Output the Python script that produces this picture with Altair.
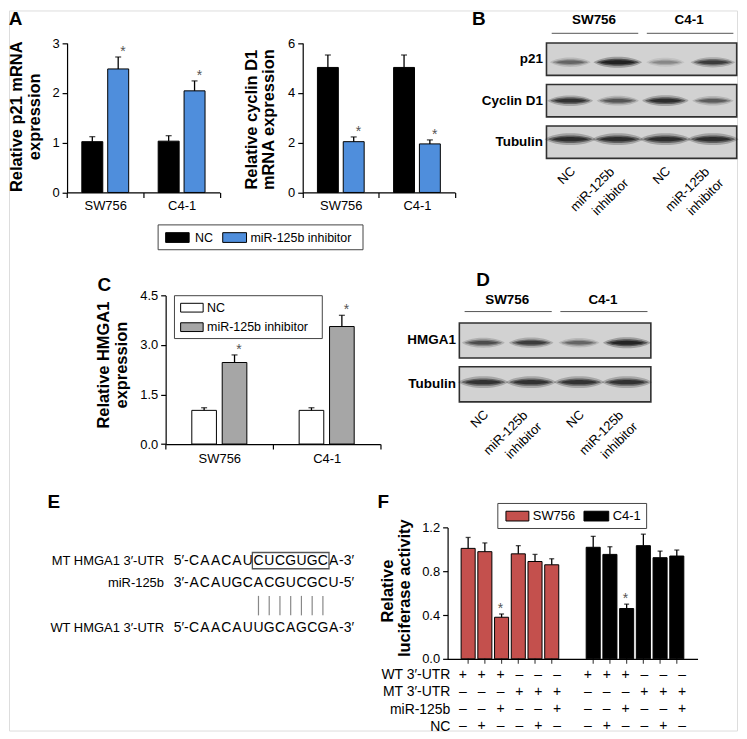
import altair as alt
import pandas as pd

FONT = "Liberation Sans"
W, H = 731, 723
SX, SY = 0.983, 0.978


def PX(x):
    return round(365.5 + (x - 373.5) * SX, 2)


def PY(y):
    return round(361.5 + (y - 369.5) * SY, 2)


# ------------------------------------------------------------------ data
CELLS = ["SW756", "C4-1"]
TREATS = ["NC", "miR-125b inhibitor"]

P21_MEAN = [1.02, 2.48, 1.03, 2.04]
P21_ERR = [0.10, 0.24, 0.11, 0.20]
CCND1_MEAN = [5.02, 2.04, 5.02, 1.95]
CCND1_ERR = [0.50, 0.19, 0.50, 0.16]
HMGA1_MEAN = [1.02, 2.47, 1.02, 3.56]
HMGA1_ERR = [0.08, 0.23, 0.08, 0.34]
SIG_A = [False, True, False, True]

B_PROTEINS = ["p21", "Cyclin D1", "Tubulin"]
B_P21 = [0.45, 1.0, 0.28, 0.72]
B_CCND1 = [0.8, 0.55, 0.85, 0.5]
B_TUB = [0.85, 0.85, 0.85, 0.85]
D_PROTEINS = ["HMGA1", "Tubulin"]
D_HMGA1 = [0.6, 0.72, 0.45, 0.95]
D_TUB = [0.8, 0.8, 0.8, 0.8]
LANES = [1, 2, 3, 4]
LANE_LINE1 = ["NC", "miR-125b", "NC", "miR-125b"]
LANE_LINE2 = ["", "inhibitor", "", "inhibitor"]

SEQ_ROWS = ["MT", "miR", "pair", "WT"]
SEQ_LABELS = ["MT HMGA1 3′-UTR", "miR-125b", "", "WT HMGA1 3′-UTR"]
SEQ_MT = "CAACAUCUCGUGCA"
SEQ_MIR = "ACAUGCACGUCGCU"
SEQ_WT = "CAACAUUGCAGCGA"
SEQ_LEFT = ["5′-", "3′-", "", "5′-"]
SEQ_RIGHT = ["-3′", "-5′", "", "-3′"]
SEED = [7, 8, 9, 10, 11, 12, 13]

F_CONDS = ["c1", "c2", "c3", "c4", "c5", "c6"]
F_SW756_MEAN = [1.01, 0.98, 0.38, 0.96, 0.89, 0.86]
F_SW756_ERR = [0.10, 0.08, 0.03, 0.075, 0.065, 0.055]
F_C41_MEAN = [1.02, 0.955, 0.46, 1.035, 0.925, 0.94]
F_C41_ERR = [0.10, 0.07, 0.04, 0.105, 0.06, 0.055]
F_SIG = [False, False, True, False, False, False]
F_TABLE_ROWS = ["WT 3′-UTR", "MT 3′-UTR", "miR-125b", "NC"]
F_WT = ["+", "+", "+", "–", "–", "–"]
F_MT = ["–", "–", "–", "+", "+", "+"]
F_MIR = ["–", "–", "+", "–", "–", "+"]
F_NC = ["–", "+", "–", "–", "+", "–"]

COLORS_A = ["black", "#4F8EDC"]
COLORS_C = ["white", "#A6A6A6"]
COLORS_F = ["#C4504D", "black"]

DUMMY = pd.DataFrame({"k": [0]})


# ------------------------------------------------------------------ helpers
def axis_common(**kw):
    base = dict(domainColor="black", tickColor="black", labelColor="black",
                domainWidth=1.2, tickWidth=1.2, labelFont=FONT, labelFontSize=13,
                grid=False, title=None, labelOverlap=False)
    base.update(kw)
    return alt.Axis(**base)


def txt(text, x, y, size=13, weight="normal", angle=0, align="center",
        baseline="middle", color="black"):
    return alt.Chart(DUMMY).mark_text(
        text=text, fontSize=size, fontWeight=weight, angle=angle, align=align,
        baseline=baseline, font=FONT, color=color
    ).encode(x=alt.value(PX(x)), y=alt.value(PY(y)))


def box(x0, x1, y0, y1, fill, stroke, sw=1.0):
    return alt.Chart(DUMMY).mark_rect(fill=fill, stroke=stroke, strokeWidth=sw).encode(
        x=alt.value(PX(x0)), x2=alt.value(PX(x1)), y=alt.value(PY(y0)), y2=alt.value(PY(y1)))


def legend_layers(frame, entries, font_size):
    out = [box(*frame, fill="white", stroke="#444444", sw=1.0)]
    for label, color, sx0, sx1, sy0, sy1, lx in entries:
        out.append(box(sx0, sx1, sy0, sy1, fill=color, stroke="black", sw=1.0))
        out.append(txt(label, lx, (sy0 + sy1) / 2, size=font_size, align="left"))
    return out


def grouped_df(means, errs, sig):
    rows = []
    i = 0
    for c in CELLS:
        for t in TREATS:
            rows.append({"cell": c, "treat": t, "v": means[i], "hi": means[i] + errs[i],
                         "star": "*" if sig[i] else ""})
            i += 1
    return pd.DataFrame(rows)


def grouped_bars(df, x_px, y_px, y_dom, y_vals, y_fmt, c_rng, pad_in, pad_out, lab_pad):
    xs = alt.Scale(domain=CELLS, range=[PX(x_px[0]), PX(x_px[1])], paddingInner=0, paddingOuter=0)
    os_ = alt.Scale(domain=TREATS, paddingInner=pad_in, paddingOuter=pad_out)
    ys = alt.Scale(domain=y_dom, range=[PY(y_px[0]), PY(y_px[1])], nice=False, zero=False)
    cs = alt.Scale(domain=TREATS, range=c_rng)
    xa = axis_common(orient="bottom", offset=round(PY(y_px[0]) - H, 2), labelAngle=0,
                     tickSize=5, labelPadding=lab_pad, tickBand="extent")
    ya = axis_common(orient="left", offset=-PX(x_px[0]), values=y_vals, format=y_fmt,
                     tickSize=5, labelPadding=3)
    X = alt.X("cell:N", scale=xs, axis=None)
    XO = alt.XOffset("treat:N", scale=os_)
    base = alt.Chart(df)
    bars = base.mark_bar(stroke="black", strokeWidth=1).encode(
        x=alt.X("cell:N", scale=xs, axis=xa), xOffset=XO,
        y=alt.Y("v:Q", scale=ys, axis=ya),
        color=alt.Color("treat:N", scale=cs, legend=None))
    err = base.mark_rule(color="black", strokeWidth=1.3).encode(
        x=X, xOffset=XO, y=alt.Y("v:Q", scale=ys, axis=None), y2="hi:Q")
    cap = base.mark_tick(color="black", thickness=1.3, size=6, orient="horizontal").encode(
        x=X, xOffset=XO, y=alt.Y("hi:Q", scale=ys, axis=None))
    star = base.mark_text(color="#555555", fontSize=14, font=FONT, baseline="alphabetic", dy=-1).encode(
        x=X, xOffset=XO, y=alt.Y("hi:Q", scale=ys, axis=None), text="star:N")
    return [bars, err, cap, star]


def blot(proteins, ints, frame, pad_in, header_y, line_y):
    left, right, top, bottom = frame
    xs = alt.Scale(domain=[0.5, 4.5], range=[PX(left), PX(right)], nice=False, zero=False)
    ys = alt.Scale(domain=proteins, range=[PY(top), PY(bottom)], paddingInner=pad_in, paddingOuter=0)
    layers = []
    df_box = pd.DataFrame({"protein": proteins})
    row_axis = alt.Axis(orient="left", offset=-PX(left), domain=False, ticks=False,
                        labelFontWeight="bold", labelFontSize=13.5, labelPadding=4,
                        labelFont=FONT, labelColor="black", title=None, grid=False,
                        labelOverlap=False)
    layers.append(alt.Chart(df_box).transform_calculate(lo="0.5", hi="4.5").mark_rect(
        fill="#d2d2d2", stroke="#303030", strokeWidth=1.6).encode(
        x=alt.X("lo:Q", scale=xs, axis=None), x2="hi:Q",
        y=alt.Y("protein:N", scale=ys, axis=row_axis)))
    rows = [{"protein": p, "lane": LANES[i], "I": v}
            for p, vals in zip(proteins, ints) for i, v in enumerate(vals)]
    df = pd.DataFrame(rows)
    for w, t, k in ((48, 11, 0.28), (42, 7, 0.55), (34, 4, 0.75)):
        c = t / (0.75 * w)
        path = f"M-1,0C-0.55,{-c:.3f} 0.55,{-c:.3f} 1,0C0.55,{c:.3f} -0.55,{c:.3f} -1,0Z"
        layers.append(alt.Chart(df).transform_calculate(
            op=f"datum.I*{k}",
            sz=f"pow({w}*(0.72+0.3*datum.I)*(datum.protein=='Tubulin'?1.1:1),2)"
        ).mark_point(shape=path, filled=True, color="#111111", strokeWidth=0).encode(
            x=alt.X("lane:Q", scale=xs, axis=None),
            y=alt.Y("protein:N", scale=ys, axis=None),
            opacity=alt.Opacity("op:Q", scale=None),
            size=alt.Size("sz:Q", scale=None)))
    df_h = pd.DataFrame({"cell": CELLS, "gi": [0, 1]})
    head = alt.Chart(df_h).transform_calculate(
        mid="datum.gi*2+1.5", lo="datum.gi*2+0.61", hi="datum.gi*2+2.43")
    layers.append(head.mark_text(fontWeight="bold", fontSize=13.5, font=FONT, color="black").encode(
        x=alt.X("mid:Q", scale=xs, axis=None), y=alt.value(PY(header_y)), text="cell:N"))
    layers.append(head.mark_rule(color="#555555", strokeWidth=1).encode(
        x=alt.X("lo:Q", scale=xs, axis=None), x2="hi:Q", y=alt.value(PY(line_y))))
    df_l = pd.DataFrame({"lane": LANES, "l1": LANE_LINE1, "l2": LANE_LINE2})
    for field, filt, sx, yoff in (("l1", "datum.l2 == ''", 3, 11.0),
                                  ("l1", "datum.l2 != ''", -5.6, 11.7),
                                  ("l2", "datum.l2 != ''", 8.6, 23.4)):
        d = round(0.7071 * sx, 2)
        layers.append(alt.Chart(df_l).transform_filter(filt).mark_text(
            angle=315, align="right", baseline="middle", fontSize=13, font=FONT,
            color="black", dx=d, dy=d).encode(
            x=alt.X("lane:Q", scale=xs, axis=None),
            y=alt.value(PY(bottom + yoff)), text=f"{field}:N"))
    return layers


layers = []

# ------------------------------------------------------------------ panel A
dfA1 = grouped_df(P21_MEAN, P21_ERR, SIG_A)
dfA2 = grouped_df(CCND1_MEAN, CCND1_ERR, SIG_A)
layers += grouped_bars(dfA1, (61, 217), (186.7, 33.3), [0, 3], [0, 1, 2, 3], "d", COLORS_A, 0.19, 0.57, 2)
layers += grouped_bars(dfA2, (301.7, 457.3), (186.7, 33.3), [0, 6], [0, 2, 4, 6], "d", COLORS_A, 0.19, 0.57, 2)
layers += legend_layers((154, 363.3, 220, 245.5), [
    (TREATS[0], COLORS_A[0], 161.7, 185.7, 228, 238, 191.7),
    (TREATS[1], COLORS_A[1], 220, 244.3, 228, 238, 248.3)], 12.5)

# ------------------------------------------------------------------ panel C
dfC = grouped_df(HMGA1_MEAN, HMGA1_ERR, SIG_A)
layers += grouped_bars(dfC, (161.7, 381), (445, 292.5), [0, 4.5], [0, 1.5, 3, 4.5], ".1f",
                       COLORS_C, 0.19, 0.86, 4)
layers += legend_layers((170.7, 321.7, 292.7, 336.7), [
    (TREATS[0], COLORS_C[0], 177, 200, 300.5, 309.5, 204),
    (TREATS[1], COLORS_C[1], 177, 200, 320.5, 329.5, 204)], 12.5)

# ------------------------------------------------------------------ panel B, D blots
layers += blot(B_PROTEINS, [B_P21, B_CCND1, B_TUB], (550.7, 745, 33.3, 151.7), 0.22, 10, 23.3)
layers += blot(D_PROTEINS, [D_HMGA1, D_TUB], (461.7, 657.3, 320.7, 401.7), 0.2, 296.7, 309)

# ------------------------------------------------------------------ panel E
seq_rows = []
for row, seq in (("MT", SEQ_MT), ("miR", SEQ_MIR), ("WT", SEQ_WT)):
    for i, ch in enumerate(seq, start=1):
        seq_rows.append({"row": row, "idx": i, "ch": ch})
df_seq = pd.DataFrame(seq_rows)
ex = alt.Scale(domain=[1, 14], range=[PX(190.7), PX(333.3)], nice=False, zero=False)
ey = alt.Scale(type="point", domain=SEQ_ROWS, range=[PY(564.7), PY(634)], padding=0)
layers.append(alt.Chart(df_seq).mark_text(fontSize=14, font=FONT, color="black").encode(
    x=alt.X("idx:Q", scale=ex, axis=None), y=alt.Y("row:N", scale=ey, axis=None), text="ch:N"))
df_ends = pd.DataFrame({"row": SEQ_ROWS, "left": SEQ_LEFT, "right": SEQ_RIGHT, "lab": SEQ_LABELS})
layers.append(alt.Chart(df_ends).transform_calculate(p="0.5").mark_text(
    fontSize=14, font=FONT, color="black", align="right").encode(
    x=alt.X("p:Q", scale=ex, axis=None), y=alt.Y("row:N", scale=ey, axis=None), text="left:N"))
layers.append(alt.Chart(df_ends).transform_calculate(p="14.5").mark_text(
    fontSize=14, font=FONT, color="black", align="left").encode(
    x=alt.X("p:Q", scale=ex, axis=None), y=alt.Y("row:N", scale=ey, axis=None), text="right:N"))
layers.append(alt.Chart(df_ends).mark_text(
    fontSize=13, font=FONT, color="black", align="right").encode(
    x=alt.value(PX(160)), y=alt.Y("row:N", scale=ey, axis=None), text="lab:N"))
bw = PX(327.3) - PX(249)
bh = PY(573) - PY(556.3)
hb = bh / bw
box_path = f"M-1,{-hb:.4f}H1V{hb:.4f}H-1Z"
df_seed = pd.DataFrame({"idx": SEED, "row": ["MT"] * len(SEED)})
layers.append(alt.Chart(df_seed).transform_aggregate(
    c="mean(idx)", groupby=["row"]).mark_point(
    shape=box_path, filled=False, color="#555555", strokeWidth=1.3, size=bw * bw, opacity=1).encode(
    x=alt.X("c:Q", scale=ex, axis=None), y=alt.Y("row:N", scale=ey, axis=None)))
df_pair = pd.DataFrame({"idx": SEED, "row": ["pair"] * len(SEED)})
layers.append(alt.Chart(df_pair).mark_tick(
    orient="vertical", size=PY(623) - PY(603), thickness=1.2, color="#555555").encode(
    x=alt.X("idx:Q", scale=ex, axis=None), y=alt.Y("row:N", scale=ey, axis=None)))

# ------------------------------------------------------------------ panel F
f_rows = []
t_rows = []
for cell, means, errs in (("SW756", F_SW756_MEAN, F_SW756_ERR), ("C4-1", F_C41_MEAN, F_C41_ERR)):
    for k, cond in enumerate(F_CONDS):
        f_rows.append({"cell": cell, "cond": cond, "v": means[k], "hi": means[k] + errs[k],
                       "star": "*" if F_SIG[k] else "", "zero": 0})
        for rname, signs in zip(F_TABLE_ROWS, (F_WT, F_MT, F_MIR, F_NC)):
            t_rows.append({"cell": cell, "cond": cond, "row": rname, "s": signs[k]})
df_f = pd.DataFrame(f_rows)
df_t = pd.DataFrame(t_rows)
fxs = alt.Scale(domain=CELLS, range=[PX(449.5), PX(705)], paddingInner=0, paddingOuter=0)
fos = alt.Scale(domain=F_CONDS, paddingInner=0.16, paddingOuter=0.82)
fys = alt.Scale(domain=[0, 1.2], range=[PY(665.5), PY(530.8)], nice=False, zero=False)
fcs = alt.Scale(domain=CELLS, range=COLORS_F)
FX = alt.X("cell:N", scale=fxs, axis=None)
FXO = alt.XOffset("cond:N", scale=fos)
fbase = alt.Chart(df_f)
layers.append(fbase.mark_tick(orient="vertical", size=10, thickness=1.2, color="black").encode(
    x=FX, xOffset=FXO, y=alt.Y("zero:Q", scale=fys, axis=None)))
layers.append(fbase.mark_bar(stroke="black", strokeWidth=1).encode(
    x=alt.X("cell:N", scale=fxs, axis=axis_common(
        orient="bottom", offset=round(PY(665.5) - H, 2), labels=False, ticks=False)),
    xOffset=FXO,
    y=alt.Y("v:Q", scale=fys, axis=axis_common(
        orient="left", offset=-PX(449.7), values=[0, 0.4, 0.8, 1.2], format=".1f",
        tickSize=5, labelPadding=3)),
    color=alt.Color("cell:N", scale=fcs, legend=None)))
layers.append(fbase.mark_rule(color="black", strokeWidth=1.3).encode(
    x=FX, xOffset=FXO, y=alt.Y("v:Q", scale=fys, axis=None), y2="hi:Q"))
layers.append(fbase.mark_tick(color="black", thickness=1.3, size=5, orient="horizontal").encode(
    x=FX, xOffset=FXO, y=alt.Y("hi:Q", scale=fys, axis=None)))
layers.append(fbase.mark_text(color="#555555", fontSize=14, font=FONT, baseline="alphabetic", dy=-1).encode(
    x=FX, xOffset=FXO, y=alt.Y("hi:Q", scale=fys, axis=None), text="star:N"))
tys = alt.Scale(type="point", domain=F_TABLE_ROWS, range=[PY(681.7), PY(735)], padding=0)
layers.append(alt.Chart(df_t).mark_text(fontSize=14, font=FONT, color="black").encode(
    x=FX, xOffset=FXO,
    y=alt.Y("row:N", scale=tys, axis=alt.Axis(
        orient="left", offset=-PX(452), domain=False, ticks=False, labelPadding=0,
        labelFont=FONT, labelFontSize=14, labelColor="black", title=None, grid=False,
        labelOverlap=False)),
    text="s:N"))
layers += legend_layers((501, 653, 506, 531.7), [
    (CELLS[0], COLORS_F[0], 509.3, 532.7, 514, 524, 536.7),
    (CELLS[1], COLORS_F[1], 589, 614.3, 514, 524, 618.3)], 13)

# ------------------------------------------------------------------ text annotations
for letter, x, y in (("A", 8.5, 8.5), ("B", 481.5, 9), ("C", 99, 281.5),
                     ("D", 486, 277), ("E", 47.5, 505), ("F", 384, 505)):
    layers.append(txt(letter, x, y, size=19, weight="bold"))
for title, x, y in (("Relative p21 mRNA", 10, 109), ("expression", 28.3, 109),
                    ("Relative cyclin D1", 250, 112), ("mRNA expression", 267, 112),
                    ("Relative HMGA1", 98.3, 364), ("expression", 116.7, 364),
                    ("Relative", 388.5, 596), ("luciferase activity", 406.5, 593)):
    layers.append(txt(title, x, y, size=16.5, weight="bold", angle=270))

chart = alt.layer(*layers).resolve_scale(
    x="independent", y="independent", xOffset="independent", color="independent"
).properties(width=W, height=H, padding=0, background="white").configure_view(
    stroke="transparent").configure(font=FONT)

chart.save("out.html", embed_options={"renderer": "svg", "actions": False})
